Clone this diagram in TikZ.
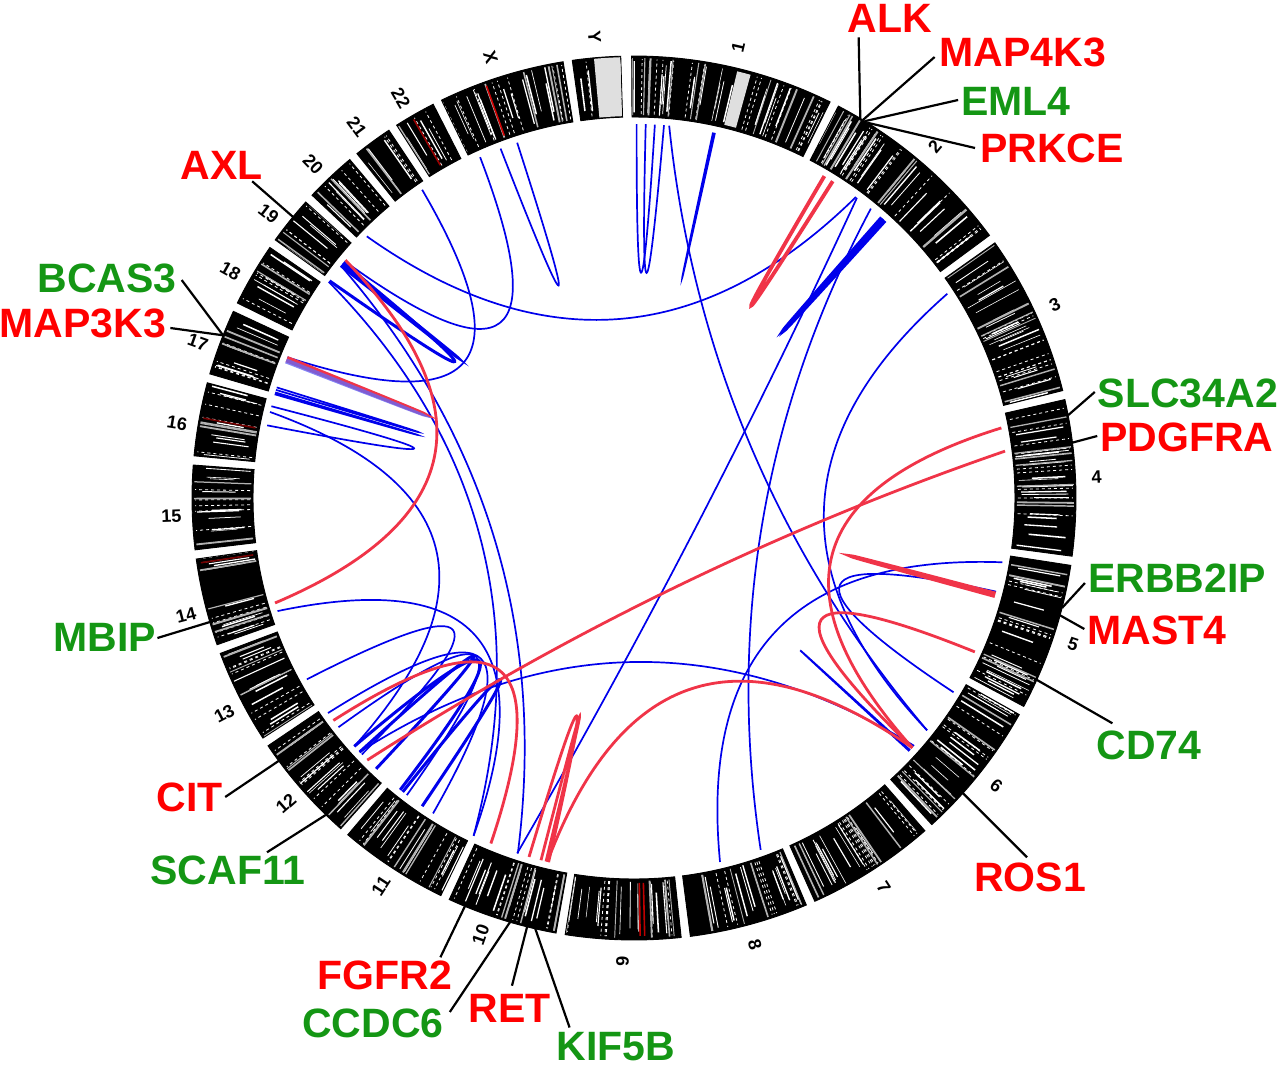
\documentclass[tikz,border=0pt]{standalone}
\usepackage{fontspec}
\setmainfont{Liberation Sans}
\usetikzlibrary{calc}

\definecolor{genered}{RGB}{255,0,0}
\definecolor{genegreen}{RGB}{20,150,20}
\definecolor{linkblue}{RGB}{0,0,235}
\definecolor{linkred}{RGB}{240,52,72}

\tikzset{
  chrlabel/.style={font=\bfseries\fontsize{18}{18}\selectfont, inner sep=0pt},
  gene/.style={font=\bfseries\fontsize{41}{41}\selectfont, inner sep=0pt},
  kinase/.style={gene, text=genered},
  partner/.style={gene, text=genegreen},
  lead/.style={line width=2.2pt},
  bluelink/.style={linkblue, line width=1.7pt},
  boldblue/.style={linkblue, line width=3pt},
  redlink/.style={linkred, line width=2.8pt},
  boldred/.style={linkred, line width=3.8pt},
}

\newcommand{\ringin}{381}
\newcommand{\ringout}{442}
\newcommand{\linkr}{374}
\newcommand{\bezr}{77}
% quadratic link between two ring angles
\newcommand{\fusion}[3]{%
  \pgfmathsetmacro\cm{(#2+#3)/2}
  \draw[#1] (#2:\linkr) .. controls ($(#2:\linkr)!2/3!(\cm:\bezr)$)
    and ($(#3:\linkr)!2/3!(\cm:\bezr)$) .. (#3:\linkr);
}

\begin{document}
\begin{tikzpicture}[x=1pt, y=1pt]
\useasboundingbox (-634,-571) rectangle (646,498);
\pgfmathsetseed{17}

% Draw chromosome ring
\foreach \n/\s/\e/\d in {1/90.3/63.66/0, 2/62.46/36.46/0, 3/35.26/14.07/0, 4/12.87/-7.57/0,
  5/-8.77/-28.14/0, 6/-29.34/-47.64/0, 7/-48.84/-65.85/0, 8/-67.05/-82.67/0,
  9/-83.87/-98.96/0, 10/-100.16/-114.71/-1.9, 11/-115.91/-130.36/0, 12/-131.56/-145.9/0,
  13/-147.1/-159.41/1, 14/-160.61/-172.06/1, 15/-173.26/-184.28/1, 16/-185.48/-195.11/1,
  17/-196.31/-204.98/1, 18/-206.18/-214.53/1, 19/-215.73/-222.04/1, 20/-223.24/-229.98/0.5,
  21/-231.18/-236.32/0.5, 22/-237.52/-242.98/0.5, X/-244.18/-260.77/0.5, Y/-261.97/-268.28/0}{
  \begin{scope}
    \clip (\e:\ringin) arc[start angle=\e, end angle=\s, radius=\ringin]
      -- (\s:\ringout) arc[start angle=\s, end angle=\e, radius=\ringout] -- cycle;
    \fill[black] (0,0) circle[radius=\ringout+5];
    \pgfmathtruncatemacro\nw{(\s-\e)*0.9}
    \foreach \k in {1,...,\nw}{
      \pgfmathsetmacro\t{\e+rnd*(\s-\e)}
      \pgfmathsetmacro\w{0.5+rnd*1.1}
      \pgfmathsetmacro\ra{\ringin+2+rnd*18}
      \pgfmathsetmacro\rb{\ringout-2-rnd*18}
      \draw[white, line width=\w pt] (\t:\ra) -- (\t:\rb);
    }
    \pgfmathtruncatemacro\nd{(\s-\e)*0.5}
    \foreach \k in {1,...,\nd}{
      \pgfmathsetmacro\t{\e+rnd*(\s-\e)}
      \draw[white, line width=0.8pt, dash pattern=on 3pt off 3pt] (\t:\ringin+3) -- (\t:\ringout-3);
    }
    \pgfmathtruncatemacro\ng{(\s-\e)*0.35}
    \foreach \k in {1,...,\ng}{
      \pgfmathsetmacro\t{\e+rnd*(\s-\e)}
      \pgfmathsetmacro\w{0.8+rnd*1.2}
      \draw[gray!60, line width=\w pt] (\t:\ringin+2) -- (\t:\ringout-2);
    }
  \end{scope}
  \draw[line width=0.9pt] (\e:\ringin) arc[start angle=\e, end angle=\s, radius=\ringin]
    -- (\s:\ringout) arc[start angle=\s, end angle=\e, radius=\ringout] -- cycle;
  \pgfmathsetmacro\m{(\s+\e)/2+\d}
  \pgfmathsetmacro\rt{cos(\m)>0 ? \m : \m+180}
  \node[chrlabel, rotate=\rt] (chr\n) at (\m:463) {\n};
}

% Draw light and red bands
\fill[gray!25] (-264.8:\ringin+1) arc[start angle=-264.8, end angle=-268.2, radius=\ringin+1]
  -- (-268.2:\ringout-1) arc[start angle=-268.2, end angle=-264.8, radius=\ringout-1] -- cycle;
\fill[gray!25] (74.6:\ringin+3) arc[start angle=74.6, end angle=76.4, radius=\ringin+3]
  -- (76.4:\ringout-3) arc[start angle=76.4, end angle=74.6, radius=\ringout-3] -- cycle;
\foreach \a/\c in {-250.3/red!80!black, -89.2/red!75!black, -88.6/red!75!black,
  -239.8/red!60!black, -190.5/red!45!black, -171.5/red!45!black}{
  \draw[\c, line width=1.6pt] (\a:\ringin+4) -- (\a:\ringout-4);
}

% Draw links
\foreach \a/\b in {89.6/86.8, 88.2/85.4, 77.8/77.5, 84.6/-38.4, 53.4/-108.2,
  50.7/-70.2, 53.6/135.6, 33.1/-38.4, -9.9/-76.7, -14.5/-31.3, -42.4/-42.6,
  -137.2/-41.5, 110.9/108.2, 114.3/140.7, 124.5/157.9, 162.8/163.2,
  163.6/163.9, 165.8/168.8, 166.7/221.6, 141.6/251.9, 144.7/244.6,
  197.6/244.6, 209.0/223.3, 215.1/237.5, 217.8/232.6}{
  \fusion{bluelink}{\a}{\b}
}
\foreach \a/\b in {48.2/48.6, 47.8/48.3, 141.0/144.5, 141.6/141.3,
  221.6/231.3, 222.8/226.4, 235.5/231.8}{
  \fusion{boldblue}{\a}{\b}
}
\foreach \a/\b in {10.8/-41.9, 7.2/-135.5, -24.3/-41.9, -103.4/-41.9,
  -143.5/-112.5, 140.5/196.3, -106.3/-103.2, -104.4/-103.6}{
  \fusion{redlink}{\a}{\b}
}
\foreach \a/\b in {59.4/57.9, -14.8/-15.2, 158.4/158.0}{
  \fusion{boldred}{\a}{\b}
}
\fusion{linkblue!60, line width=2.4pt, opacity=0.8}{158.7}{158.3}

% Draw gene labels
\node[kinase] (alk) at (256,480) {ALK};
\node[kinase] (map4k3) at (389,446) {MAP4K3};
\node[partner] (eml4) at (382,397) {EML4};
\node[kinase] (prkce) at (418,350) {PRKCE};
\node[partner] (slc34a2) at (554,105) {SLC34A2};
\node[kinase] (pdgfra) at (553,61) {PDGFRA};
\node[partner] (erbb2ip) at (543,-80) {ERBB2IP};
\node[kinase] (mast4) at (523,-132) {MAST4};
\node[partner] (cd74) at (515,-247) {CD74};
\node[kinase] (ros1) at (396,-379) {ROS1};
\node[partner] (kif5b) at (-18,-549) {KIF5B};
\node[kinase] (ret) at (-124,-510) {RET};
\node[partner] (ccdc6) at (-261,-525) {CCDC6};
\node[kinase] (fgfr2) at (-249,-477) {FGFR2};
\node[partner] (scaf11) at (-406,-372) {SCAF11};
\node[kinase] (cit) at (-444,-299) {CIT};
\node[partner] (mbip) at (-529,-139) {MBIP};
\node[kinase] (map3k3) at (-551,175) {MAP3K3};
\node[partner] (bcas3) at (-527,220) {BCAS3};
\node[kinase] (axl) at (-412,333) {AXL};

% Draw leader lines
\foreach \g/\a in {alk/59.2, map4k3/58.8, eml4/58.5, prkce/58.1, slc34a2/10.8,
  pdgfra/7.2, erbb2ip/-14.4, mast4/-15.4, cd74/-24.3, ros1/-41.9, fgfr2/-112.5,
  ccdc6/-106.3, ret/-104.0, kif5b/-102.9, scaf11/-134.2, cit/-143.5,
  mbip/-163.7, bcas3/158.4, map3k3/158.4, axl/140.5}{
  \coordinate (\g-r) at (\a:\ringout);
}
\draw[lead] (alk-r) -- ([shift={(11,-5)}]alk.south west);
\draw[lead] (map4k3-r) -- ([shift={(-5,-5)}]map4k3.west);
\draw[lead] (eml4-r) -- ([shift={(-3,1)}]eml4.west);
\draw[lead] (prkce-r) -- ([shift={(-5,0)}]prkce.west);
\draw[lead] (slc34a2-r) -- ([shift={(-3,1)}]slc34a2.west);
\draw[lead] (pdgfra-r) -- ([shift={(-3,1)}]pdgfra.west);
\draw[lead] (erbb2ip-r) -- ([shift={(-3,-5)}]erbb2ip.west);
\draw[lead] (mast4-r) -- ([shift={(-3,1)}]mast4.west);
\draw[lead] (cd74-r) -- ([shift={(16,7)}]cd74.north west);
\draw[lead] (ros1-r) -- ([shift={(-3,5)}]ros1.north);
\draw[lead] (fgfr2-r) -- ([shift={(-12,3)}]fgfr2.north east);
\draw[lead] (ccdc6-r) -- ([shift={(6,11)}]ccdc6.east);
\draw[lead] (ret-r) -- ([shift={(2,8)}]ret.north);
\draw[lead] (kif5b-r) -- ([shift={(13,5)}]kif5b.north west);
\draw[lead] (scaf11-r) -- ([shift={(39,3)}]scaf11.north);
\draw[lead] (cit-r) -- ([shift={(2,0)}]cit.east);
\draw[lead] (mbip-r) -- ([shift={(1,-1)}]mbip.east);
\draw[lead] (bcas3-r) -- ([shift={(5,-2)}]bcas3.east);
\draw[lead] (map3k3-r) -- ([shift={(4,-5)}]map3k3.east);
\draw[lead] (axl-r) -- ([shift={(-11,-2)}]axl.south east);
\end{tikzpicture}
\end{document}
